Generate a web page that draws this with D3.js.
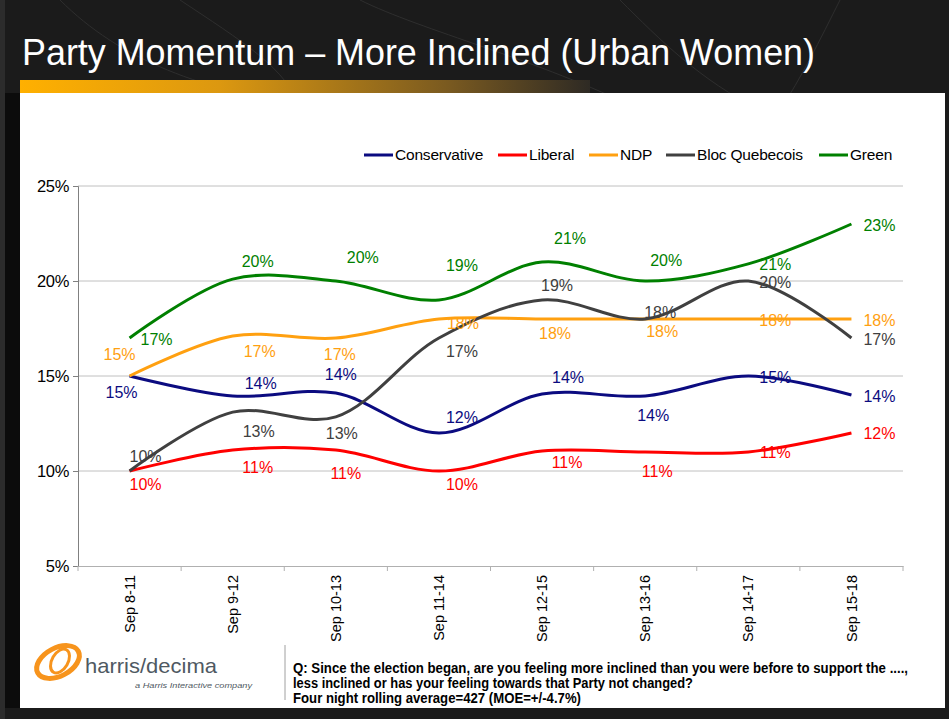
<!DOCTYPE html>
<html>
<head>
<meta charset="utf-8">
<script src="https://cdn.jsdelivr.net/npm/d3@7"></script>
<style>
    html, body { margin: 0; padding: 0; background: #1b1b1b; }
    svg { display: block; }
</style>
</head>
<body>
<div id="chart"></div>
<script>
(function () {

    // Categories (four night rolling windows)
    var categories = ['Sep 8-11', 'Sep 9-12', 'Sep 10-13', 'Sep 11-14', 'Sep 12-15', 'Sep 13-16', 'Sep 14-17', 'Sep 15-18'];

    // Series values (% more inclined)
    var seriesNames = ['Conservative', 'Liberal', 'NDP', 'Bloc Quebecois', 'Green'];
    var conservative = [15, 13.95, 14.1, 12, 14.05, 13.95, 15, 14];
    var liberal = [10, 11.1, 11.1, 10, 11.05, 11, 11, 12];
    var ndp = [15, 17.1, 17, 18, 18, 18, 18, 18];
    var bloc = [10, 13.1, 12.85, 17, 19, 18, 20, 17];
    var green = [17, 20.1, 20, 19, 21, 20, 20.9, 23];

    // Y axis ticks
    var yTicks = [5, 10, 15, 20, 25];

    var width = 949;
    var height = 719;

    var colors = {
        'Conservative': '#0b0b80',
        'Liberal': '#ff0000',
        'NDP': '#ffa010',
        'Bloc Quebecois': '#404040',
        'Green': '#008000'
    };

    /**
     * Where each data label sits relative to its point (pixels), as placed in the original deck
     */
    var labelNudge = {
        'Conservative': [[-8, 16], [28, -13], [5, -19], [23, -16], [26, -17], [8, 19], [27, 1], [28, 1]],
        'Liberal': [[16, 13], [25, 17], [10, 23], [23, 13], [25, 11], [12, 19], [27, 0], [28, 0]],
        'NDP': [[-10, -22], [27, 15], [4, 16], [24, 4], [13, 14], [17, 12], [27, 1], [28, 1]],
        'Bloc Quebecois': [[16, -15], [26, 19], [6, 17], [23, 13], [15, -15], [15, -7], [27, 1], [28, 1]],
        'Green': [[27, 1], [25, -18], [27, -24], [23, -35], [28, -24], [21, -21], [27, 0], [28, 1]]
    };

    var seriesValues = [conservative, liberal, ndp, bloc, green];
    var series = seriesNames.map(function (name, i) {
        return { name: name, values: seriesValues[i] };
    });

    var svg = d3.select('#chart')
        .append('svg')
        .attr('width', width)
        .attr('height', height);

    var defs = svg.append('defs');
    var grad = defs.append('linearGradient').attr('id', 'goldBar');
    grad.append('stop').attr('offset', '0%').attr('stop-color', '#ffb000');
    grad.append('stop').attr('offset', '35%').attr('stop-color', '#dc9810');
    grad.append('stop').attr('offset', '75%').attr('stop-color', '#7a5a20');
    grad.append('stop').attr('offset', '100%').attr('stop-color', '#2e2a24');

    // Slide background with a few faint curves
    svg.append('rect').attr('width', width).attr('height', height).attr('fill', '#1b1b1b');
    svg.append('rect').attr('x', 0).attr('y', 0).attr('width', 5).attr('height', height).attr('fill', '#2c2c2c');
    svg.append('rect').attr('x', 5).attr('y', 93).attr('width', 15).attr('height', 615).attr('fill', '#0c0c0c');

    var faint = svg.append('g').attr('fill', 'none').attr('stroke', '#2e2e2e').attr('stroke-width', 1);
    faint.append('path').attr('d', 'M60,0 C120,60 200,90 320,110');
    faint.append('path').attr('d', 'M180,0 C240,40 290,70 300,110');
    faint.append('path').attr('d', 'M360,0 C420,30 540,60 640,110');
    faint.append('path').attr('d', 'M620,0 C660,40 700,80 760,110');
    faint.append('path').attr('d', 'M840,0 C820,40 800,80 780,110');

    // Title and gold bar
    svg.append('text')
        .attr('x', 22)
        .attr('y', 65)
        .attr('fill', '#ffffff')
        .attr('font-family', '"Liberation Sans Narrow", "Arial Narrow", sans-serif')
        .attr('font-size', 37)
        .attr('textLength', 793)
        .attr('lengthAdjust', 'spacingAndGlyphs')
        .text('Party Momentum \u2013 More Inclined (Urban Women)');

    svg.append('rect')
        .attr('x', 20).attr('y', 80).attr('width', 570).attr('height', 13)
        .attr('fill', 'url(#goldBar)');

    // White content panel
    svg.append('rect')
        .attr('x', 20).attr('y', 93).attr('width', 925).attr('height', 615)
        .attr('fill', '#ffffff');

    /**
     * Scales: one band per rolling window, points sit at band centres
     */
    var x = d3.scaleBand().domain(categories).range([78, 903]);
    var y = d3.scaleLinear().domain([5, 25]).range([566, 186]);
    var cx = function (c) { return x(c) + x.bandwidth() / 2; };

    var font = '"Liberation Sans", Arial, sans-serif';

    // Gridlines
    svg.append('g')
        .selectAll('line')
        .data(yTicks.slice(1))
        .enter()
        .append('line')
        .attr('x1', 78).attr('x2', 903)
        .attr('y1', function (d) { return y(d); })
        .attr('y2', function (d) { return y(d); })
        .attr('stroke', '#c0c0c0')
        .attr('stroke-width', 1);

    // Y axis
    var yAxis = svg.append('g')
        .attr('transform', 'translate(78,0)')
        .call(d3.axisLeft(y).tickValues(yTicks).tickSize(5).tickPadding(4)
            .tickFormat(function (d) { return d + '%'; }));
    yAxis.select('.domain').attr('stroke', '#808080');
    yAxis.selectAll('.tick line').attr('stroke', '#808080');
    yAxis.selectAll('text')
        .attr('font-family', font)
        .attr('font-size', 16.5)
        .attr('letter-spacing', -0.3)
        .attr('fill', '#000');

    // X axis
    var xAxis = svg.append('g')
        .attr('transform', 'translate(0,566)')
        .call(d3.axisBottom(x).tickSize(0).tickFormat(''));
    xAxis.select('.domain').attr('stroke', '#b0b0b0');

    svg.append('g')
        .selectAll('line')
        .data(categories.concat(['end']))
        .enter()
        .append('line')
        .attr('x1', function (d, i) { return 78 + i * x.step(); })
        .attr('x2', function (d, i) { return 78 + i * x.step(); })
        .attr('y1', 566).attr('y2', 571)
        .attr('stroke', '#b0b0b0');

    svg.append('g')
        .selectAll('text')
        .data(categories)
        .enter()
        .append('text')
        .attr('transform', function (d) { return 'translate(' + cx(d) + ',575) rotate(-90)'; })
        .attr('text-anchor', 'end')
        .attr('dy', '0.35em')
        .attr('font-family', font)
        .attr('font-size', 14.5)
        .attr('fill', '#000')
        .text(function (d) { return d; });

    /**
     * Smoothed lines, drawn in series order so that Green ends up on top
     */
    var line = d3.line()
        .x(function (d, i) { return cx(categories[i]); })
        .y(function (d) { return y(d); })
        .curve(d3.curveCatmullRom.alpha(0.5));

    svg.append('g')
        .selectAll('path')
        .data(series)
        .enter()
        .append('path')
        .attr('d', function (s) { return line(s.values); })
        .attr('fill', 'none')
        .attr('stroke', function (s) { return colors[s.name]; })
        .attr('stroke-width', 3)
        .attr('stroke-linejoin', 'round');

    // Data labels
    series.forEach(function (s) {
        svg.append('g')
            .selectAll('text')
            .data(s.values)
            .enter()
            .append('text')
            .attr('x', function (d, i) { return cx(categories[i]) + labelNudge[s.name][i][0]; })
            .attr('y', function (d, i) { return y(d) + labelNudge[s.name][i][1]; })
            .attr('text-anchor', 'middle')
            .attr('dy', '0.35em')
            .attr('font-family', font)
            .attr('font-size', 16)
            .attr('fill', colors[s.name])
            .text(function (d) { return Math.round(d) + '%'; });
    });

    /**
     * Legend across the top of the plot
     */
    var legendX = [364, 498, 589, 666, 819];
    var legend = svg.selectAll('.legend')
        .data(series)
        .enter()
        .append('g')
        .attr('class', 'legend')
        .attr('transform', function (s, i) { return 'translate(' + legendX[i] + ',155)'; });

    legend.append('line')
        .attr('x1', 0).attr('x2', 29)
        .attr('stroke', function (s) { return colors[s.name]; })
        .attr('stroke-width', 3);

    legend.append('text')
        .attr('x', 31)
        .attr('dy', '0.35em')
        .attr('font-family', font)
        .attr('font-size', 15.5)
        .attr('letter-spacing', -0.2)
        .attr('fill', '#000')
        .text(function (s) { return s.name; });

    /**
     * Footer: logo and the survey question
     */
    var logo = svg.append('g').attr('fill', 'none').attr('stroke', '#f7941d');
    logo.append('ellipse')
        .attr('cx', 0).attr('cy', 0).attr('rx', 23).attr('ry', 14)
        .attr('stroke-width', 5)
        .attr('transform', 'translate(58,662) rotate(-28)');
    logo.append('ellipse')
        .attr('cx', 0).attr('cy', 0).attr('rx', 13).attr('ry', 8)
        .attr('stroke-width', 3)
        .attr('transform', 'translate(60,661) rotate(-60)');

    svg.append('text')
        .attr('x', 85).attr('y', 673)
        .attr('font-family', font)
        .attr('font-size', 21)
        .attr('textLength', 132)
        .attr('lengthAdjust', 'spacingAndGlyphs')
        .attr('fill', '#4f5962')
        .text('harris/decima');

    svg.append('text')
        .attr('x', 135).attr('y', 688)
        .attr('font-family', font)
        .attr('font-size', 8)
        .attr('font-style', 'italic')
        .attr('textLength', 117)
        .attr('lengthAdjust', 'spacingAndGlyphs')
        .attr('fill', '#4f5962')
        .text('a Harris Interactive company');

    svg.append('line')
        .attr('x1', 285).attr('x2', 285)
        .attr('y1', 645).attr('y2', 700)
        .attr('stroke', '#a0a0a0');

    var question = [
        ['Q: Since the election began, are you feeling more inclined than you were before to support the ....,', 615],
        ['less inclined or has your feeling towards that Party not changed?', 400],
        ['Four night rolling average=427 (MOE=+/-4.7%)', 288]
    ];
    svg.append('g')
        .selectAll('text')
        .data(question)
        .enter()
        .append('text')
        .attr('x', 293)
        .attr('y', function (d, i) { return 673 + i * 15; })
        .attr('font-family', '"Liberation Sans Narrow", "Arial Narrow", sans-serif')
        .attr('font-weight', 'bold')
        .attr('font-size', 14)
        .attr('textLength', function (d) { return d[1]; })
        .attr('lengthAdjust', 'spacingAndGlyphs')
        .attr('fill', '#000')
        .text(function (d) { return d[0]; });

})();
</script>
</body>
</html>
